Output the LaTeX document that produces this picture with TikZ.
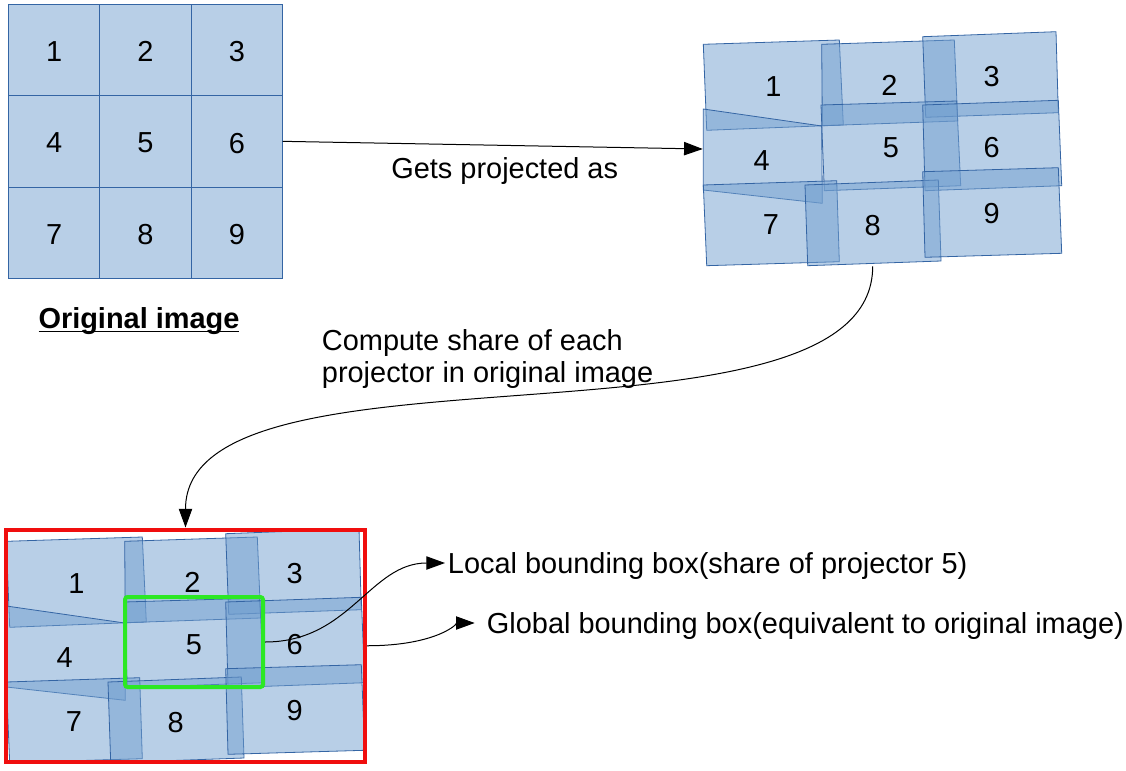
\documentclass[tikz,border=0pt]{standalone}
\usepackage{fontspec}
\setmainfont{Liberation Sans}
\usetikzlibrary{arrows.meta, positioning, fit, calc}

\definecolor{cellfill}{RGB}{114,159,207}
\definecolor{cellline}{RGB}{52,101,164}
\definecolor{globalred}{RGB}{240,14,14}
\definecolor{localgreen}{RGB}{44,232,36}
\newcommand{\diagfont}{\fontsize{21.7}{24}\selectfont}
\newcommand{\celltext}[1]{\raisebox{-1.2pt}[\height][0pt]{#1}}

% projected tiles and their numbers, #1 is the name prefix
\newcommand{\projquads}[1]{%
    \foreach \xa/\ya/\xb/\yb/\xc/\yc/\xd/\yd in {
        703.3/44.3/839.3/40/843.3/125/706.7/130.3,
        821.7/44.3/954.3/40/957.7/121/822.3/125.7,
        922.7/36.7/1056/31.7/1058.3/112.7/925.7/117.3,
        703.3/109/821.7/126/822.3/203.3/703.3/190,
        821/105/956.7/101/960.7/185.7/824.3/190.7,
        922.7/105/1058.3/100.3/1061.7/185.7/925/190.7,
        703.3/185/836.7/180.7/839.3/261.7/706.7/265.7,
        805/185/938.3/180/941/261/807.7/265.7,
        922.7/171.7/1058.3/167.7/1061.7/253.3/925/257.3}
        \draw[tile] (\xa,\ya) -- (\xb,\yb) -- (\xc,\yc) -- (\xd,\yd) -- cycle;
    \node[num] (#1-1) at (773.3,85) {1};
    \node[num] (#1-2) at (889.3,83.3) {2};
    \node[num] (#1-3) at (991.7,75) {3};
    \node[num] (#1-4) at (761.7,159) {4};
    \node[num] (#1-5) at (891,145.7) {5};
    \node[num] (#1-6) at (991.7,145.7) {6};
    \node[num] (#1-7) at (771,223.3) {7};
    \node[num] (#1-8) at (872.7,224.3) {8};
    \node[num] (#1-9) at (991.7,212.3) {9};
}

\begin{document}
\begin{tikzpicture}[
        x=0.75pt, y=-0.75pt,
        node distance=0pt and 0pt,
        cell/.style={rectangle, draw=cellline, fill=cellfill!50, line width=0.75pt, outer sep=0pt, minimum width=68.6pt, minimum height=68.5pt, font=\diagfont},
        tile/.style={draw=cellline, fill=cellfill, fill opacity=0.5, line width=0.6pt},
        num/.style={inner sep=1pt, yshift=-1.2pt, font=\diagfont},
        note/.style={inner sep=2pt, yshift=-2.2pt, font=\diagfont},
        globalbox/.style={rectangle, draw=globalred, line width=3pt, inner sep=0pt},
        localbox/.style={rectangle, draw=localgreen, line width=3pt, rounded corners=2pt, inner sep=0pt},
        arrow/.style={-{Triangle[length=14pt, width=10pt]}, line width=0.75pt}
    ]
        \useasboundingbox (0,0) rectangle (1126,770);

        % original image
        \node[cell] (o1) at (54.05,50) {\celltext{1}};
        \node[cell, right=of o1] (o2) {\celltext{2}};
        \node[cell, right=of o2] (o3) {\celltext{3}};
        \node[cell, below=of o1] (o4) {\celltext{4}};
        \node[cell, right=of o4] (o5) {\celltext{5}};
        \node[cell, right=of o5] (o6) {\celltext{6}};
        \node[cell, below=of o4] (o7) {\celltext{7}};
        \node[cell, right=of o7] (o8) {\celltext{8}};
        \node[cell, right=of o8] (o9) {\celltext{9}};
        \node[inner sep=2pt, font=\diagfont, anchor=base] (origlabel) at (139,328) {\textbf{\underline{\smash{Original image}\rule[-1.2pt]{0pt}{1pt}}}};

        % projected image
        \projquads{p}
        \node[fit={(703,32) (1062,266)}, inner sep=0pt] (proj) {};

        % share of each projector
        \begin{scope}
            \clip (8,531.5) rectangle (363,760);
            \begin{scope}[shift={(-697,497)}]
                \projquads{q}
            \end{scope}
        \end{scope}
        \node[localbox, fit={(125,597) (263,687)}] (localbox) {};
        \node[globalbox, fit={(6,529.5) (365,762)}] (globalbox) {};

        \node[note] (gets) at (504.7,168.3) {Gets projected as};
        \node[note, align=left, anchor=west] (compute) at (319,356) {Compute share of each\\projector in original image};
        \node[note, anchor=west] (localtext) at (445,563) {Local bounding box(share of projector 5)};
        \node[note, anchor=west] (globaltext) at (484,623) {Global bounding box(equivalent to original image)};

        \draw[arrow] (o6.east) -- (proj.west);
        \draw[arrow] (p-8 |- proj.south) .. controls +(0,200) and +(0,-200) .. (globalbox.north);
        \draw[arrow] (localbox.east) .. controls +(85,0) and +(-75,0) .. ([yshift=2.2pt]localtext.west);
        \draw[arrow, shorten >=7pt] (globalbox.east) .. controls +(70,0) and +(-25,0) .. ([yshift=2.2pt]globaltext.west);
\end{tikzpicture}
\end{document}
